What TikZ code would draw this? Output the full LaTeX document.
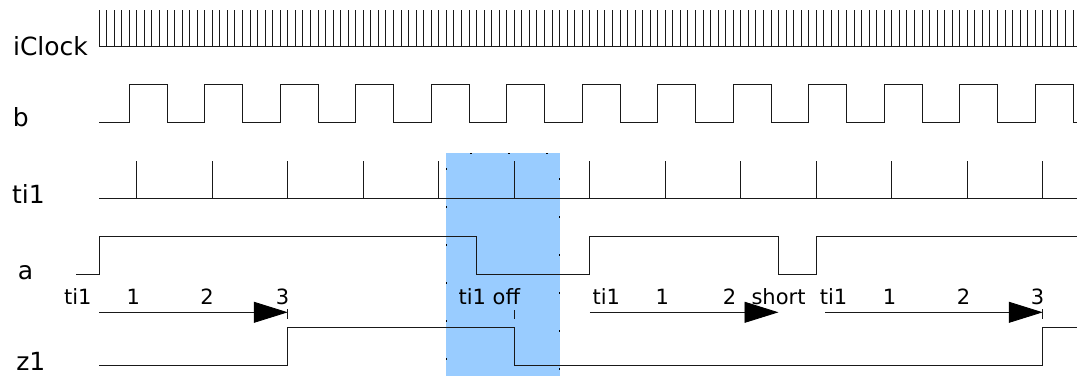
\documentclass[tikz,border=0pt]{standalone}
\usepackage{fontspec}
\setmainfont{DejaVu Sans}
\usetikzlibrary{arrows.meta}
\definecolor{winblue}{HTML}{99CCFF}

\begin{document}
\begin{tikzpicture}[x=7.55pt, y=-1pt,
  sig/.style={line width=0.9pt, black!90},
  cnt/.style={sig, -{Triangle[length=34pt, width=21pt, color=black]}},
  signame/.style={anchor=base, inner sep=0pt, font=\fontsize{25}{30}\selectfont},
  cnttext/.style={anchor=base, inner sep=0pt, font=\fontsize{21}{25}\selectfont}]
\useasboundingbox (-13.113,0) rectangle (129.536,376);
% WINDOW: ti1 switched off
\fill[winblue] (46,153.3) rectangle (61,376);
\draw[black, line width=0.9pt, dash pattern=on 2pt off 36pt, dash phase=14pt]
  (46,153.3) -- (61,153.3) -- (61,376);
\draw[black, line width=0.9pt, dash pattern=on 2pt off 36pt, dash phase=23pt]
  (46,153.3) -- (46,376);
% SIGNAL NAMES
\node[signame] (nClock) at (-6.42,55) {iClock};
\node[signame] (nB) at (-10.36,126) {b};
\node[signame] (nTi) at (-9.34,203) {ti1};
\node[signame] (nA) at (-9.74,279) {a};
\node[signame] (nZ) at (-9.03,370) {z1};
% iClock
\draw[sig] (0,46) -- (129.536,46);
\foreach \i in {0,...,129} \draw[sig] (\i,10) -- (\i,46);
% b
\draw[sig] (0,122.7) \foreach \i in {0,...,12} {
  -- (\i*10+4,122.7) -- (\i*10+4,84.7) -- (\i*10+9,84.7) -- (\i*10+9,122.7)}
  -- (129.536,122.7);
% ti1
\draw[sig] (0,198.3) -- (129.536,198.3);
\foreach \i in {5,15,...,125} \draw[sig] (\i,161) -- (\i,198.3);
% a
\draw[sig] (-3,274.3) -- (0,274.3) -- (0,236.7) -- (50,236.7) -- (50,274.3)
  -- (65,274.3) -- (65,236.7) -- (90,236.7) -- (90,274.3) -- (95,274.3)
  -- (95,236.7) -- (129.536,236.7);
% z1
\draw[sig] (0,365) -- (25,365) -- (25,327.3) -- (55,327.3) -- (55,365)
  -- (125,365) -- (125,327.3) -- (129.536,327.3);
% COUNTING ARROWS
\coordinate (arA0) at (0,312.3);
\coordinate (arA1) at (25,312.3);
\coordinate (arB0) at (65,312.3);
\coordinate (arB1) at (90,312.3);
\coordinate (arC0) at (96.2,312.3);
\coordinate (arC1) at (125,312.3);
\draw[cnt] (arA0) -- (arA1);
\draw[cnt] (arB0) -- (arB1);
\draw[cnt] (arC0) -- (arC1);
\draw[sig] (25,309.3) -- (25,319.3);
\draw[sig] (55,310) -- (55,319.3);
\draw[sig] (125,309.3) -- (125,319.3);
\node[cnttext] (tA) at (-2.8,304) {ti1};
\node[cnttext] (tA1) at (4.54,304) {1};
\node[cnttext] (tA2) at (14.3,304) {2};
\node[cnttext] (tA3) at (24.3,304) {3};
\node[cnttext] (tOff) at (51.7,304) {ti1 off};
\node[cnttext] (tB) at (67.2,304) {ti1};
\node[cnttext] (tB1) at (74.6,304) {1};
\node[cnttext] (tB2) at (83.5,304) {2};
\node[cnttext] (tShort) at (90,304) {short};
\node[cnttext] (tC) at (97.3,304) {ti1};
\node[cnttext] (tC1) at (104.7,304) {1};
\node[cnttext] (tC2) at (114.5,304) {2};
\node[cnttext] (tC3) at (124.3,304) {3};
\end{tikzpicture}
\end{document}
